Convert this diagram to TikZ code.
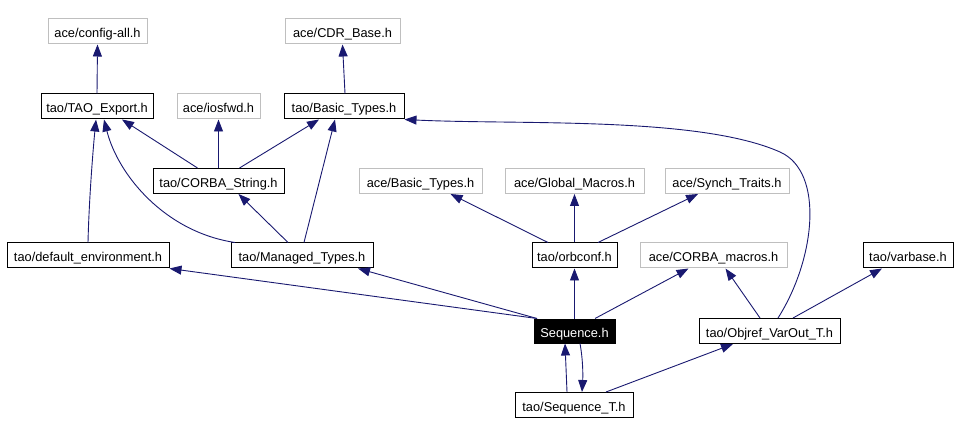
\documentclass[tikz,border=0pt]{standalone}
\usepackage{fontspec}
\setmainfont{Liberation Sans}
\usetikzlibrary{arrows.meta}
\definecolor{edgec}{RGB}{25,25,112}
\definecolor{grayc}{RGB}{191,191,191}
\begin{document}
\begin{tikzpicture}[x=1pt,y=-1pt,
  box/.style={draw=black,line width=1pt,minimum height=25pt,inner xsep=1pt,inner ysep=0pt,text height=12.5pt,text depth=0pt,font=\fontsize{12.8}{14}\selectfont,text=black},
  extbox/.style={box,draw=grayc},
  mainbox/.style={box,fill=black,text=white,minimum height=24pt},
  dep/.style={draw=edgec,line width=0.9pt,-{Triangle[length=12pt,width=9pt]},fill=none},
]
\useasboundingbox (0,0) rectangle (960,435);
% nodes
\node[extbox,minimum width=99pt]  (cfg) at (97.5,31.5) {ace/config-all.h};
\node[extbox,minimum width=115pt] (cdr) at (342.5,31.5) {ace/CDR\_Base.h};
\node[box,minimum width=112pt]    (tex) at (97,106.5) {tao/TAO\_Export.h};
\node[extbox,minimum width=83pt]  (ios) at (218.5,106.5) {ace/iosfwd.h};
\node[box,minimum width=120pt]    (bt)  at (344,106.5) {tao/Basic\_Types.h};
\node[box,minimum width=131pt]    (cs)  at (218.5,181) {tao/CORBA\_String.h};
\node[extbox,minimum width=123pt] (abt) at (420.5,181) {ace/Basic\_Types.h};
\node[extbox,minimum width=139pt] (gm)  at (574.5,181) {ace/Global\_Macros.h};
\node[extbox,minimum width=124pt] (st)  at (727,181) {ace/Synch\_Traits.h};
\node[box,minimum width=162pt]    (de)  at (88,255.5) {tao/default\_environment.h};
\node[box,minimum width=142pt]    (mt)  at (302,255.5) {tao/Managed\_Types.h};
\node[box,minimum width=85pt]     (oc)  at (574.5,255.5) {tao/orbconf.h};
\node[extbox,minimum width=147pt] (cm)  at (713.5,255.5) {ace/CORBA\_macros.h};
\node[box,minimum width=90pt]     (vb)  at (908,255.5) {tao/varbase.h};
\node[mainbox,minimum width=81pt] (seq) at (574.5,331) {Sequence.h};
\node[box,minimum width=141pt]    (ovt) at (769.5,331) {tao/Objref\_VarOut\_T.h};
\node[box,minimum width=118pt]    (sqt) at (574,405) {tao/Sequence\_T.h};
% edges
\draw[dep] (tex.north) -- (cfg.south);
\draw[dep] ([xshift=1pt]bt.north) -- (cdr.south);
\draw[dep] ([xshift=-21pt]cs.north) -- ([xshift=25pt]tex.south);
\draw[dep] (cs.north) -- (ios.south);
\draw[dep] ([xshift=21pt]cs.north) -- ([xshift=-25pt]bt.south);
\draw[dep] (de.north) .. controls (89,200) and (93,150) .. ([xshift=-1pt]tex.south);
\draw[dep] ([xshift=-67pt]mt.north) .. controls (165,232) and (118,175) .. ([xshift=7pt]tex.south);
\draw[dep] ([xshift=-14pt]mt.north) -- ([xshift=20pt]cs.south);
\draw[dep] ([xshift=2pt]mt.north) -- ([xshift=-9pt]bt.south);
\draw[dep] ([xshift=-37.5pt]seq.north) -- (de.south east);
\draw[dep] ([xshift=-37.5pt]seq.north) -- ([xshift=56pt]mt.south);
\draw[dep] (seq.north) -- (oc.south);
\draw[dep] ([xshift=20.5pt]seq.north) -- ([xshift=-25pt]cm.south);
\draw[dep] ([xshift=-26.5pt]oc.north) -- ([xshift=30pt]abt.south);
\draw[dep] (oc.north) -- (gm.south);
\draw[dep] ([xshift=23.5pt]oc.north) -- ([xshift=-29pt]st.south);
\draw[dep] ([xshift=-9.5pt]ovt.north) -- ([xshift=12pt]cm.south);
\draw[dep] ([xshift=8.5pt]ovt.north) .. controls (815,260) and (825,172) .. (780,152) .. controls (699,116) and (520,125) .. (bt.south east);
\draw[dep] ([xshift=23.5pt]ovt.north) -- ([xshift=-26pt]vb.south);
\draw[dep] ([xshift=-7pt]sqt.north) -- ([xshift=-9.5pt]seq.south);
\draw[dep] ([xshift=5.5pt]seq.south) .. controls (583,360) and (583,375) .. ([xshift=8pt]sqt.north);
\draw[dep] ([xshift=32pt]sqt.north) -- ([xshift=-36.5pt]ovt.south);
\end{tikzpicture}
\end{document}
